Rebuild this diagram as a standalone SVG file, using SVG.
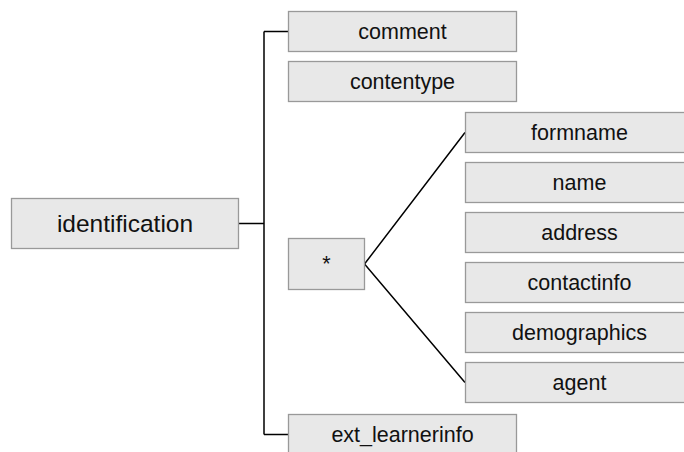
<svg xmlns="http://www.w3.org/2000/svg" width="684" height="452" viewBox="0 0 684 452">
  <style>
    .box { fill: #e8e8e8; stroke: #999999; stroke-width: 1.3; }
    .lbl { font-family: "Liberation Sans", Arial, sans-serif; font-size: 21.5px; fill: #111111; text-anchor: middle; }
    .root { font-size: 24.5px; }
    .wire { fill: none; stroke: #000000; stroke-width: 1.5; }
  </style>
  <rect width="684" height="452" fill="#ffffff"/>

  <!-- connectors -->
  <g id="connectors">
    <path class="wire" d="M238.5 223.5 H264 M264 31.5 V434.5 M264 31.5 H288.5 M264 434.5 H288.5"/>
    <path class="wire" d="M465 132.5 L364.5 264 L465 382.5"/>
  </g>

  <g id="identification">
    <rect class="box" x="11.5" y="198.5" width="227" height="50"/>
    <text class="lbl root" x="125" y="232">identification</text>
  </g>
  <g id="comment">
    <rect class="box" x="288.5" y="11.5" width="228" height="40"/>
    <text class="lbl" x="402.5" y="38.8">comment</text>
  </g>
  <g id="contentype">
    <rect class="box" x="288.5" y="61.5" width="228" height="40"/>
    <text class="lbl" x="402.5" y="88.8">contentype</text>
  </g>
  <g id="any">
    <rect class="box" x="288.5" y="238.5" width="76" height="51"/>
    <text class="lbl" x="326.5" y="271">*</text>
  </g>
  <g id="ext_learnerinfo">
    <rect class="box" x="288.5" y="414.5" width="228" height="40"/>
    <text class="lbl" x="402.5" y="441.8">ext_learnerinfo</text>
  </g>
  <g id="formname">
    <rect class="box" x="465.5" y="112.5" width="228" height="40"/>
    <text class="lbl" x="579.5" y="139.8">formname</text>
  </g>
  <g id="name">
    <rect class="box" x="465.5" y="162.5" width="228" height="40"/>
    <text class="lbl" x="579.5" y="189.8">name</text>
  </g>
  <g id="address">
    <rect class="box" x="465.5" y="212.5" width="228" height="40"/>
    <text class="lbl" x="579.5" y="239.8">address</text>
  </g>
  <g id="contactinfo">
    <rect class="box" x="465.5" y="262.5" width="228" height="40"/>
    <text class="lbl" x="579.5" y="289.8">contactinfo</text>
  </g>
  <g id="demographics">
    <rect class="box" x="465.5" y="312.5" width="228" height="40"/>
    <text class="lbl" x="579.5" y="339.8">demographics</text>
  </g>
  <g id="agent">
    <rect class="box" x="465.5" y="362.5" width="228" height="40"/>
    <text class="lbl" x="579.5" y="389.8">agent</text>
  </g>
</svg>
